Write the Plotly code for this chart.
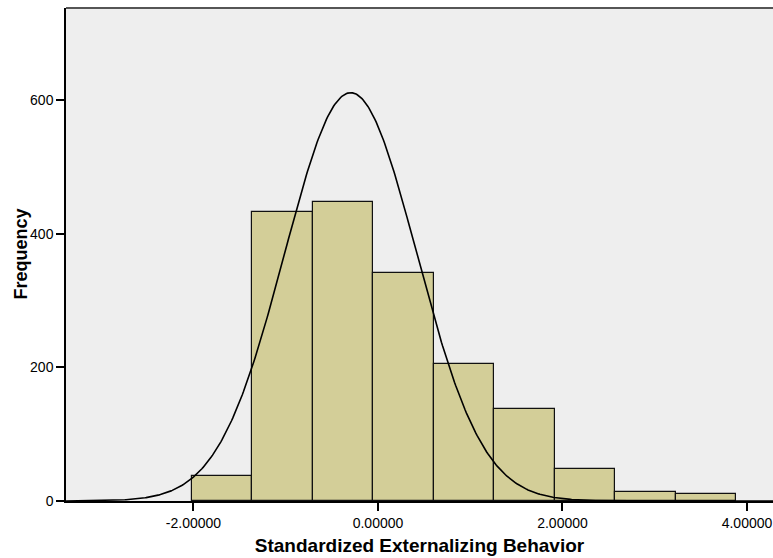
import numpy as np
import plotly.graph_objects as go

# Histogram data
bin_edges = [-2.02, -1.364, -0.708, -0.052, 0.604, 1.26, 1.916, 2.572, 3.228, 3.884]
frequencies = [37, 432, 448, 341, 205, 137, 48, 13, 11]

# Normal curve parameters
curve_mean = -0.296
curve_sd = 0.716
n_total = sum(frequencies)

x_tick_vals = [-2, 0, 2, 4]
x_tick_text = ["-2.00000", "0.00000", "2.00000", "4.00000"]
y_tick_vals = [0, 200, 400, 600]

edges = np.array(bin_edges)
centers = (edges[:-1] + edges[1:]) / 2
widths = edges[1:] - edges[:-1]
bw = float(np.mean(widths))

xs = np.linspace(-3.4, 4.3, 600)
ys = n_total * bw / (curve_sd * np.sqrt(2 * np.pi)) * np.exp(-0.5 * ((xs - curve_mean) / curve_sd) ** 2)

fig = go.Figure()
fig.add_trace(go.Bar(
    x=centers, y=frequencies, width=widths,
    marker=dict(color="#D3CE98", line=dict(color="#111111", width=1.2)),
    hoverinfo="skip",
))
fig.add_trace(go.Scatter(
    x=xs, y=ys, mode="lines",
    line=dict(color="black", width=1.6),
    hoverinfo="skip",
))

font_family = "Liberation Sans, Arial, sans-serif"
fig.update_layout(
    width=773, height=558,
    margin=dict(l=66, r=0, t=8, b=57),
    paper_bgcolor="white",
    plot_bgcolor="#EEEEEE",
    showlegend=False,
    bargap=0,
    font=dict(family=font_family, color="black", size=14),
    xaxis=dict(
        range=[-3.382, 4.282],
        tickvals=x_tick_vals, ticktext=x_tick_text,
        ticks="outside", ticklen=8, tickwidth=1.5, tickcolor="black",
        showline=True, linecolor="black", linewidth=1.5,
        showgrid=False, zeroline=False,
        tickfont=dict(size=14),
        title=dict(text="<b>Standardized Externalizing Behavior</b>",
                   font=dict(size=19), standoff=9),
    ),
    yaxis=dict(
        range=[0, 738],
        tickvals=y_tick_vals,
        ticks="outside", ticklen=8, tickwidth=1.5, tickcolor="black",
        showline=True, linecolor="black", linewidth=1.5,
        showgrid=False, zeroline=False,
        tickfont=dict(size=14),
    ),
    annotations=[dict(text="<b>Frequency</b>", textangle=-90, showarrow=False,
                      xref="paper", yref="paper", x=0, y=0.5,
                      xanchor="center", yanchor="middle", xshift=-46,
                      font=dict(size=18))],
    shapes=[dict(type="line", xref="paper", yref="paper", x0=0, x1=1, y0=1, y1=1,
                 line=dict(color="#555555", width=2))],
)

fig.write_html("out.html")
